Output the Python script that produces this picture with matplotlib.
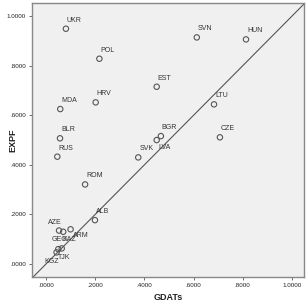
import matplotlib
matplotlib.use("Agg")
import matplotlib.pyplot as plt

plt.rcParams['font.family'] = ['Liberation Sans', 'DejaVu Sans']

countries = ['UKR', 'POL', 'MDA', 'HRV', 'BLR', 'RUS', 'ROM', 'ALB', 'AZE', 'GEO',
             'ARM', 'KAZ', 'TJK', 'KGZ', 'SVN', 'HUN', 'EST', 'LTU', 'CZE', 'BGR',
             'LVA', 'SVK']
gdats = [0.081, 0.217, 0.058, 0.202, 0.057, 0.046, 0.159, 0.199, 0.053, 0.070,
         0.100, 0.064, 0.050, 0.043, 0.613, 0.813, 0.450, 0.683, 0.707, 0.467,
         0.450, 0.375]
expf = [0.949, 0.828, 0.625, 0.652, 0.507, 0.433, 0.321, 0.177, 0.135, 0.130,
        0.140, 0.063, 0.060, 0.047, 0.914, 0.906, 0.715, 0.644, 0.511, 0.516,
        0.500, 0.430]
ticks = [0.0, 0.2, 0.4, 0.6, 0.8, 1.0]
tick_labels = ['.0000', '.2000', '.4000', '.6000', '.8000', '1.0000']

# label offsets in pixels (dx, dy) from point to text left-bottom
default_off = (1, 5)
special_off = {
    'AZE': (-11, 5),
    'GEO': (-12, -11),
    'ARM': (2, -10),
    'TJK': (0, -12),
    'KGZ': (-12, -13),
    'LVA': (2, -11),
}

fig = plt.figure(figsize=(3.07, 3.04), dpi=100)
ax = fig.add_axes([0.1042, 0.0888, 0.886, 0.901])
ax.set_facecolor('#f0f0f0')

ax.scatter(gdats, expf, s=15, facecolors='none', edgecolors='#555555',
           linewidths=0.8, zorder=3)
for c, x, y in zip(countries, gdats, expf):
    dx, dy = special_off.get(c, default_off)
    ax.annotate(c, (x, y), xytext=(dx, dy), textcoords='offset pixels',
                ha='left', va='bottom', fontsize=5, color='#333333', zorder=4)

ax.axline((0, 0), slope=1, color='#555555', linewidth=0.8, zorder=2)

ax.set_xlim(-0.0569, 1.0488)
ax.set_ylim(-0.0524, 1.0524)
ax.set_xticks(ticks)
ax.set_xticklabels(tick_labels)
ax.set_yticks(ticks)
ax.set_yticklabels(tick_labels)
ax.tick_params(labelsize=4.5, length=2.5, width=0.6, colors='#555555',
               labelcolor='#222222', pad=2)
for s in ax.spines.values():
    s.set_color('#888888')
    s.set_linewidth(1.0)

fig.text(168 / 307, 1 - 297 / 304, 'GDATs', ha='center', va='center',
         fontsize=6.5, fontweight='bold', color='#222222')
fig.text(13 / 307, 1 - 140 / 304, 'EXPF', ha='center', va='center', rotation=90,
         fontsize=6.5, fontweight='bold', color='#222222')

fig.savefig('out.png', dpi=100)
